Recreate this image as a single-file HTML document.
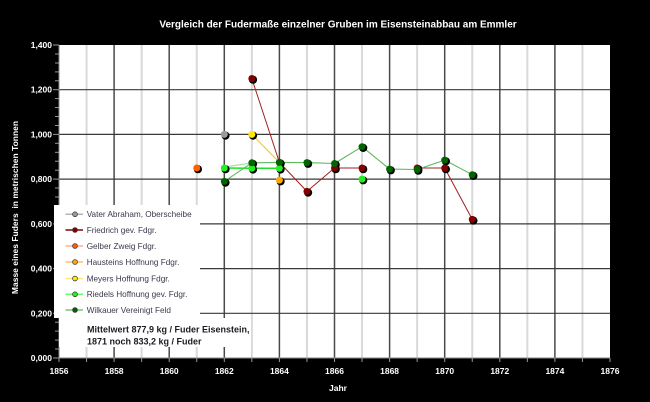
<!DOCTYPE html>
<html>
<head>
<meta charset="utf-8">
<style>
html,body{margin:0;padding:0;background:#000;}
svg{display:block;}
text{font-family:"Liberation Sans",Arial,sans-serif;}
</style>
</head>
<body>
<svg width="650" height="402" viewBox="0 0 650 402" xmlns="http://www.w3.org/2000/svg">
<rect x="0" y="0" width="650" height="402" fill="#000"/>
<!-- title -->
<text x="338" y="27.5" fill="#fff" font-size="10" font-weight="bold" text-anchor="middle">Vergleich der Fudermaße einzelner Gruben im Eisensteinabbau am Emmler</text>

<!-- plot area -->
<rect x="59" y="45" width="551" height="313" fill="#fff"/>

<!-- minor vertical gridlines (odd years) -->
<g stroke="#d9d9d9" stroke-width="2">
<line x1="86.55" y1="45" x2="86.55" y2="358"/>
<line x1="141.65" y1="45" x2="141.65" y2="358"/>
<line x1="196.75" y1="45" x2="196.75" y2="358"/>
<line x1="251.85" y1="45" x2="251.85" y2="358"/>
<line x1="306.95" y1="45" x2="306.95" y2="358"/>
<line x1="362.05" y1="45" x2="362.05" y2="358"/>
<line x1="417.15" y1="45" x2="417.15" y2="358"/>
<line x1="472.25" y1="45" x2="472.25" y2="358"/>
<line x1="527.35" y1="45" x2="527.35" y2="358"/>
<line x1="582.45" y1="45" x2="582.45" y2="358"/>
</g>
<!-- major vertical gridlines -->
<g stroke="#4a4a4a" stroke-width="1.5">
<line x1="114.1" y1="45" x2="114.1" y2="358"/>
<line x1="169.2" y1="45" x2="169.2" y2="358"/>
<line x1="224.3" y1="45" x2="224.3" y2="358"/>
<line x1="279.4" y1="45" x2="279.4" y2="358"/>
<line x1="334.5" y1="45" x2="334.5" y2="358"/>
<line x1="389.6" y1="45" x2="389.6" y2="358"/>
<line x1="444.7" y1="45" x2="444.7" y2="358"/>
<line x1="499.8" y1="45" x2="499.8" y2="358"/>
<line x1="554.9" y1="45" x2="554.9" y2="358"/>
</g>
<!-- horizontal gridlines -->
<g stroke="#3a3a3a" stroke-width="1.2">
<line x1="59" y1="313.3" x2="610" y2="313.3"/>
<line x1="59" y1="268.6" x2="610" y2="268.6"/>
<line x1="59" y1="223.9" x2="610" y2="223.9"/>
<line x1="59" y1="179.1" x2="610" y2="179.1"/>
<line x1="59" y1="134.4" x2="610" y2="134.4"/>
<line x1="59" y1="89.7" x2="610" y2="89.7"/>
</g>

<!-- axes -->
<g stroke="#8a8a8a" stroke-width="1">
<line x1="59" y1="45" x2="59" y2="358.5"/>
<line x1="59" y1="358" x2="610" y2="358"/>
</g>
<!-- y ticks -->
<g stroke="#9a9a9a" stroke-width="1">
<line x1="55" y1="54" x2="59" y2="54"/><line x1="55" y1="63" x2="59" y2="63"/><line x1="55" y1="71.9" x2="59" y2="71.9"/><line x1="55" y1="80.8" x2="59" y2="80.8"/>
<line x1="55" y1="98.6" x2="59" y2="98.6"/><line x1="55" y1="107.6" x2="59" y2="107.6"/><line x1="55" y1="116.5" x2="59" y2="116.5"/><line x1="55" y1="125.5" x2="59" y2="125.5"/>
<line x1="55" y1="143.3" x2="59" y2="143.3"/><line x1="55" y1="152.3" x2="59" y2="152.3"/><line x1="55" y1="161.2" x2="59" y2="161.2"/><line x1="55" y1="170.2" x2="59" y2="170.2"/>
<line x1="55" y1="188" x2="59" y2="188"/><line x1="55" y1="197" x2="59" y2="197"/><line x1="55" y1="206" x2="59" y2="206"/><line x1="55" y1="214.9" x2="59" y2="214.9"/>
<line x1="55" y1="232.8" x2="59" y2="232.8"/><line x1="55" y1="241.7" x2="59" y2="241.7"/><line x1="55" y1="250.7" x2="59" y2="250.7"/><line x1="55" y1="259.6" x2="59" y2="259.6"/>
<line x1="55" y1="277.5" x2="59" y2="277.5"/><line x1="55" y1="286.5" x2="59" y2="286.5"/><line x1="55" y1="295.4" x2="59" y2="295.4"/><line x1="55" y1="304.4" x2="59" y2="304.4"/>
<line x1="55" y1="322.2" x2="59" y2="322.2"/><line x1="55" y1="331.1" x2="59" y2="331.1"/><line x1="55" y1="340.1" x2="59" y2="340.1"/><line x1="55" y1="349" x2="59" y2="349"/>
<line x1="53" y1="45" x2="59" y2="45"/><line x1="53" y1="89.7" x2="59" y2="89.7"/><line x1="53" y1="134.4" x2="59" y2="134.4"/><line x1="53" y1="179.1" x2="59" y2="179.1"/><line x1="53" y1="223.9" x2="59" y2="223.9"/><line x1="53" y1="268.6" x2="59" y2="268.6"/><line x1="53" y1="313.3" x2="59" y2="313.3"/><line x1="53" y1="358" x2="59" y2="358"/>
</g>
<!-- x ticks -->
<g stroke="#9a9a9a" stroke-width="1">
<line x1="59" y1="358" x2="59" y2="362"/><line x1="86.55" y1="358" x2="86.55" y2="362"/><line x1="114.1" y1="358" x2="114.1" y2="362"/><line x1="141.65" y1="358" x2="141.65" y2="362"/><line x1="169.2" y1="358" x2="169.2" y2="362"/><line x1="196.75" y1="358" x2="196.75" y2="362"/><line x1="224.3" y1="358" x2="224.3" y2="362"/><line x1="251.85" y1="358" x2="251.85" y2="362"/><line x1="279.4" y1="358" x2="279.4" y2="362"/><line x1="306.95" y1="358" x2="306.95" y2="362"/><line x1="334.5" y1="358" x2="334.5" y2="362"/><line x1="362.05" y1="358" x2="362.05" y2="362"/><line x1="389.6" y1="358" x2="389.6" y2="362"/><line x1="417.15" y1="358" x2="417.15" y2="362"/><line x1="444.7" y1="358" x2="444.7" y2="362"/><line x1="472.25" y1="358" x2="472.25" y2="362"/><line x1="499.8" y1="358" x2="499.8" y2="362"/><line x1="527.35" y1="358" x2="527.35" y2="362"/><line x1="554.9" y1="358" x2="554.9" y2="362"/><line x1="582.45" y1="358" x2="582.45" y2="362"/><line x1="610" y1="358" x2="610" y2="362"/>
</g>

<!-- y tick labels -->
<g fill="#fff" font-size="8.5" font-weight="bold" text-anchor="end">
<text x="52" y="48">1,400</text>
<text x="52" y="92.7">1,200</text>
<text x="52" y="137.4">1,000</text>
<text x="52" y="182.1">0,800</text>
<text x="52" y="226.9">0,600</text>
<text x="52" y="271.6">0,400</text>
<text x="52" y="316.3">0,200</text>
<text x="52" y="361">0,000</text>
</g>
<!-- x tick labels -->
<g fill="#fff" font-size="8.5" font-weight="bold" text-anchor="middle">
<text x="59" y="374">1856</text>
<text x="114.1" y="374">1858</text>
<text x="169.2" y="374">1860</text>
<text x="224.3" y="374">1862</text>
<text x="279.4" y="374">1864</text>
<text x="334.5" y="374">1866</text>
<text x="389.6" y="374">1868</text>
<text x="444.7" y="374">1870</text>
<text x="499.8" y="374">1872</text>
<text x="554.9" y="374">1874</text>
<text x="610" y="374">1876</text>
</g>
<text x="338" y="391" fill="#fff" font-size="8.5" font-weight="bold" text-anchor="middle">Jahr</text>
<text transform="translate(18,207.5) rotate(-90)" fill="#fff" font-size="8.5" font-weight="bold" text-anchor="middle" xml:space="preserve">Masse eines Fuders  in metrischen Tonnen</text>

<!-- series lines -->
<g fill="none" stroke-linejoin="round">
<polyline points="251.85,78.5 279.4,162.4 306.95,191.4 334.5,168 362.05,168" stroke="#a02020" stroke-width="1"/>
<polyline points="417.15,168 444.7,168 472.25,219.4" stroke="#a02020" stroke-width="1"/>
<polyline points="251.85,134.4 279.4,162.4" stroke="#f5c400" stroke-width="1"/>
<polyline points="224.3,167 251.85,163" stroke="#9be89b" stroke-width="1.2"/>
<polyline points="224.3,168 251.85,168.3 279.4,168.3" stroke="#22e022" stroke-width="1.5"/>
<polyline points="224.3,181.4 251.85,162.8 279.4,162.4 306.95,162.6 334.5,163.5 362.05,146.7 389.6,169.1 417.15,169.5 444.7,160.1 472.25,174.7" stroke="#5cb85c" stroke-width="1.1"/>
</g>

<!-- markers: shadow then fill -->
<g fill="#000">
<circle cx="225.5" cy="135.6" r="4.1"/>
<circle cx="253" cy="79.7" r="4.1"/><circle cx="280.6" cy="163.6" r="4.1"/><circle cx="308.1" cy="192.6" r="4.1"/><circle cx="335.7" cy="169.2" r="4.1"/><circle cx="363.2" cy="169.2" r="4.1"/><circle cx="418.3" cy="169.2" r="4.1"/><circle cx="445.9" cy="169.2" r="4.1"/><circle cx="473.4" cy="220.6" r="4.1"/>
<circle cx="197.9" cy="169.2" r="4.1"/>
<circle cx="280.6" cy="181.3" r="4.1"/>
<circle cx="253" cy="135.6" r="4.1"/>
<circle cx="225.5" cy="169.2" r="4.1"/><circle cx="253" cy="169.5" r="4.1"/><circle cx="280.6" cy="169.5" r="4.1"/><circle cx="363.2" cy="180.3" r="4.1"/>
<circle cx="225.5" cy="182.6" r="4.1"/><circle cx="253" cy="164" r="4.1"/><circle cx="280.6" cy="163.6" r="4.1"/><circle cx="308.1" cy="163.8" r="4.1"/><circle cx="335.7" cy="164.7" r="4.1"/><circle cx="363.2" cy="147.9" r="4.1"/><circle cx="390.8" cy="170.3" r="4.1"/><circle cx="418.3" cy="170.7" r="4.1"/><circle cx="445.9" cy="161.3" r="4.1"/><circle cx="473.4" cy="175.9" r="4.1"/>
</g>
<circle cx="224.3" cy="134.4" r="3.5" fill="#9a9a9a"/>
<g fill="#820000">
<circle cx="251.85" cy="78.5" r="3.5"/><circle cx="279.4" cy="162.4" r="3.5"/><circle cx="306.95" cy="191.4" r="3.5"/><circle cx="334.5" cy="168" r="3.5"/><circle cx="362.05" cy="168" r="3.5"/><circle cx="417.15" cy="168" r="3.5"/><circle cx="444.7" cy="168" r="3.5"/><circle cx="472.25" cy="219.4" r="3.5"/>
</g>
<circle cx="196.75" cy="168" r="3.5" fill="#ff6000"/>
<circle cx="279.4" cy="180.1" r="3.5" fill="#ffaa00"/>
<circle cx="251.85" cy="134.4" r="3.5" fill="#ffe800"/>
<g fill="#22ee22">
<circle cx="224.3" cy="168" r="3.5"/><circle cx="251.85" cy="168.3" r="3.5"/><circle cx="279.4" cy="168.3" r="3.5"/><circle cx="362.05" cy="179.1" r="3.5"/>
</g>
<g fill="#006400">
<circle cx="224.3" cy="181.4" r="3.5"/><circle cx="251.85" cy="162.8" r="3.5"/><circle cx="279.4" cy="162.4" r="3.5"/><circle cx="306.95" cy="162.6" r="3.5"/><circle cx="334.5" cy="163.5" r="3.5"/><circle cx="362.05" cy="146.7" r="3.5"/><circle cx="389.6" cy="169.1" r="3.5"/><circle cx="417.15" cy="169.5" r="3.5"/><circle cx="444.7" cy="160.1" r="3.5"/><circle cx="472.25" cy="174.7" r="3.5"/>
</g>

<!-- legend -->
<rect x="54" y="205" width="146" height="113" fill="#fff"/>
<rect x="59" y="318" width="192" height="29" fill="#fff"/>
<g stroke-width="1.5">
<line x1="65.5" y1="214.3" x2="83" y2="214.3" stroke="#b5b5b5"/>
<line x1="65.5" y1="230" x2="83" y2="230" stroke="#8a0000"/>
<line x1="65.5" y1="246" x2="83" y2="246" stroke="#ffb090"/>
<line x1="65.5" y1="262" x2="83" y2="262" stroke="#ffc460"/>
<line x1="65.5" y1="278.5" x2="83" y2="278.5" stroke="#ffe680"/>
<line x1="65.5" y1="294.3" x2="83" y2="294.3" stroke="#66ff66"/>
<line x1="65.5" y1="310" x2="83" y2="310" stroke="#80c080"/>
</g>
<g stroke="#333" stroke-width="0.7">
<circle cx="75" cy="214.3" r="2.4" fill="#9a9a9a"/>
<circle cx="75" cy="230" r="2.4" fill="#820000"/>
<circle cx="75" cy="246" r="2.4" fill="#ff6000"/>
<circle cx="75" cy="262" r="2.4" fill="#ffaa00"/>
<circle cx="75" cy="278.5" r="2.4" fill="#ffe800"/>
<circle cx="75" cy="294.3" r="2.4" fill="#22ee22"/>
<circle cx="75" cy="310" r="2.4" fill="#006400"/>
</g>
<g fill="#3a3a4a" font-size="8.2">
<text x="86.7" y="217.2">Vater Abraham, Oberscheibe</text>
<text x="86.7" y="232.9">Friedrich gev. Fdgr.</text>
<text x="86.7" y="248.9">Gelber Zweig Fdgr.</text>
<text x="86.7" y="264.9">Hausteins Hoffnung Fdgr.</text>
<text x="86.7" y="281.4">Meyers Hoffnung Fdgr.</text>
<text x="86.7" y="297.2">Riedels Hoffnung gev. Fdgr.</text>
<text x="86.7" y="312.9">Wilkauer Vereinigt Feld</text>
</g>
<g fill="#1a1a22" font-size="9" font-weight="bold">
<text x="87" y="332.5">Mittelwert 877,9 kg / Fuder Eisenstein,</text>
<text x="87" y="344.5">1871 noch 833,2 kg / Fuder</text>
</g>
</svg>
</body>
</html>
